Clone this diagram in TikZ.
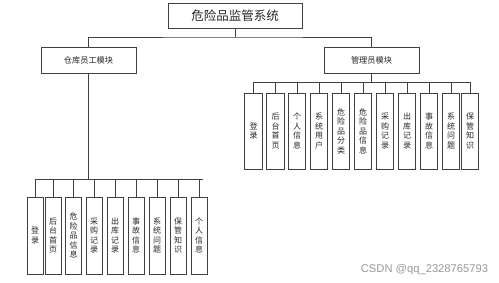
\documentclass[tikz,border=0pt]{standalone}
\usepackage{fontspec}
\newfontfamily\cjk{Noto Sans CJK SC}
\newfontfamily\wm{Liberation Sans}
\begin{document}
\begin{tikzpicture}[x=1pt,y=-1pt,
  box/.style={draw=black!75, line width=0.8pt, inner sep=0pt, text=black!85, font=\cjk},
  leafL/.style={box, minimum width=16pt, minimum height=77pt, align=center, font=\cjk\fontsize{8}{9.5}\selectfont},
  leafR/.style={box, minimum width=17.5pt, minimum height=76pt, align=center, font=\cjk\fontsize{8}{9.5}\selectfont},
  conn/.style={draw=black!75, line width=0.8pt}]
\useasboundingbox (0,0) rectangle (499,283);
\fill[white] (0,0) rectangle (499,283);
% top
\node[box, minimum width=134pt, minimum height=25pt, font=\cjk\fontsize{12.5}{14}\selectfont] (top) at (235,15.5) {危险品监管系统};
\node[box, minimum width=95pt, minimum height=26pt, font=\cjk\fontsize{8.2}{10}\selectfont] (lm) at (88.5,60) {仓库员工模块};
\node[box, minimum width=95pt, minimum height=26pt, font=\cjk\fontsize{8.2}{10}\selectfont] (rm) at (371.5,60) {管理员模块};
% left leaves
\node[leafL] (l1) at (35,235.5) {登\\录};
\node[leafL] (l2) at (53,235.5) {后\\台\\首\\页};
\node[leafL] (l3) at (73.5,235.5) {危\\险\\品\\信\\息};
\node[leafL] (l4) at (94,235.5) {采\\购\\记\\录};
\node[leafL] (l5) at (115,235.5) {出\\库\\记\\录};
\node[leafL] (l6) at (136,235.5) {事\\故\\信\\息};
\node[leafL] (l7) at (157,235.5) {系\\统\\问\\题};
\node[leafL] (l8) at (178,235.5) {保\\管\\知\\识};
\node[leafL] (l9) at (199,235.5) {个\\人\\信\\息};
% right leaves
\node[leafR] (r1) at (253.5,131) {登\\录};
\node[leafR] (r2) at (275.5,131) {后\\台\\首\\页};
\node[leafR] (r3) at (297,131) {个\\人\\信\\息};
\node[leafR] (r4) at (319,131) {系\\统\\用\\户};
\node[leafR] (r5) at (341,131) {危\\险\\品\\分\\类};
\node[leafR] (r6) at (363,131) {危\\险\\品\\信\\息};
\node[leafR] (r7) at (385,131) {采\\购\\记\\录};
\node[leafR] (r8) at (407,131) {出\\库\\记\\录};
\node[leafR] (r9) at (429,131) {事\\故\\信\\息};
\node[leafR] (r10) at (451,131) {系\\统\\问\\题};
\node[leafR] (r11) at (470,131) {保\\管\\知\\识};
% connectors
\coordinate (tj) at (235,37);
\coordinate (lbus) at (88.5,179);
\coordinate (lbusend) at (203,179);
\coordinate (rbus) at (371.5,82);
\draw[conn] (top.south) -- (tj);
\draw[conn] (lm.north) |- (tj) -| (rm.north);
\draw[conn] (lm.south) -- (lbus);
\draw[conn] (l1.north |- lbus) -- (lbusend);
\foreach \n in {l1,l2,l3,l4,l5,l6,l7,l8,l9}
  \draw[conn] (\n.north) -- (\n.north |- lbus);
\draw[conn] (rm.south) -- (rbus);
\draw[conn] (r1.north |- rbus) -- (r11.north |- rbus);
\foreach \n in {r1,r2,r3,r4,r5,r6,r7,r8,r9,r10,r11}
  \draw[conn] (\n.north) -- (\n.north |- rbus);
% watermark
\node[text=black!40, font=\wm\fontsize{11.2}{13}\selectfont, inner sep=0pt] (wmk) at (424.5,270) {CSDN @qq\_2328765793};
\end{tikzpicture}
\end{document}
